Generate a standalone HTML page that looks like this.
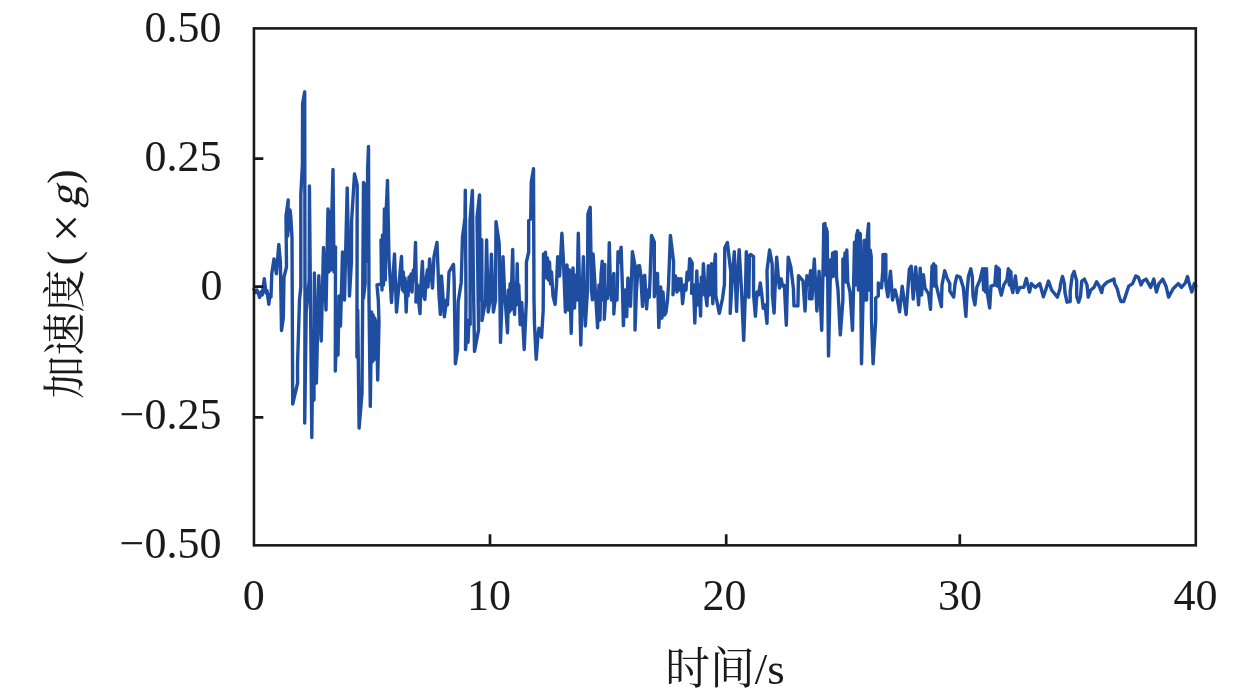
<!DOCTYPE html>
<html lang="zh">
<head>
<meta charset="utf-8">
<title>加速度时程曲线</title>
<style>
html,body{margin:0;padding:0;background:#fff;}
body{width:1259px;height:700px;overflow:hidden;position:relative;}
svg{position:absolute;left:0;top:0;display:block;}
text{font-family:"Liberation Serif","Noto Serif CJK SC",serif;font-size:44px;fill:#1a1a1a;}
.cjk{font-family:"Liberation Serif","Noto Serif CJK SC",serif;}
</style>
</head>
<body>
<svg width="1259" height="700" viewBox="0 0 1259 700">
<rect x="0" y="0" width="1259" height="700" fill="#ffffff"/>
<polyline fill="none" stroke="#1f4ea1" stroke-width="3.4" stroke-linejoin="round" stroke-linecap="round" points="254,289.5 255.5,292.5 257,290 259.6,297.5 261,292 262.2,295 264.3,278.6 266,293 267,290.5 268.8,304.2 270,294.5 271,297 271.8,273.4 274,259 276.4,273.8 278.8,244.5 280.4,262 281,300 281.5,330.5 283.3,318 284,277 286.5,267 286,216 288.2,200 287.6,236 290,210 290.8,216.8 292,237.6 292.7,404 297.6,383 297.5,365 299.5,300 300.8,287 300.8,195 302.4,165 302.6,103.5 304.7,91.8 305,300 304.7,423 306.2,311 309.2,280 309.4,186 310.3,280 311.8,437.6 313,330 314,400 314.4,273 316.4,383 318.8,275.8 321.2,341 323.5,247.5 326,310 328,209 328.8,272 329.8,212 330.8,270 331.8,214 333,169.5 334,272 335.5,247 335.3,371 336.5,335 338,355 339,296 340.5,326 342.5,252 344.5,300 347.2,188 349.5,296 351.4,262 351.6,221 354.5,174 357.2,185 356.9,357 357.7,310 359.1,428 362,393 363.5,182.5 363.5,298 365.2,283 364.8,186 365.6,262 366.4,184 367.2,255 367.6,170 368.5,146.5 369,300 370.3,406.4 371.6,312 372.2,362 373.2,315 373.8,360 374.8,318 375.3,345 376.5,321 377.7,380 379,322 378.3,300 377,285 381.5,284 381,240 382,290 382.5,235 383.5,285 384.4,209 385.3,280 386,215 387.5,180.5 389,260 391.5,302.5 394.5,254 396.5,312 401.5,256.5 402.5,290 403.3,272 404,292 405,278 406.2,312 407.3,282 408,296 409,277 410,290 411,274 412,292 413.3,270 414.2,280 415.5,242.5 416.3,285 415.9,302 417.5,285 418.5,300 420,313.6 421,285 422.4,261.5 423.5,295 424.9,299.5 426,280 427.4,270 428,287 429.6,259 432.5,288 434,256.5 437,242.5 439,295 440.4,314.4 441.5,276 444.4,316.8 446.5,300 447.5,305 449,272 453.5,264.4 454.1,278.6 455.4,363.7 457.5,350 458.2,301.7 461.2,282.4 462.5,237 465,218 465.3,190.2 466,300 465.5,349.5 467,335 468,342.4 469,320 470.2,324.4 470,221 472.4,190.5 473.4,280 474.5,351.4 478.6,329.6 477,218 479.5,195 480.3,300 481.8,239.7 482,320.6 485.5,300 486.6,240 488.2,312 490,300 491.4,254.1 493.4,312 495.5,300 496,221.7 499.2,243.6 500.5,342.4 502,300 503,256.7 504.5,290 507.5,332.8 508.5,290 509.3,312 510.1,283.7 510.8,310 511.6,285 512.7,249.5 513.5,300 514.6,314.4 515.5,283 516.3,305 517.2,263.8 518,300 518.8,285 520.2,324.6 521.7,302.4 524.2,349.5 526.4,300 526.4,262 528.7,252 528.7,220.5 530.7,219 531.3,182 533.5,168.7 534,300 534.5,324.4 536.2,359.2 538,335 539,328.3 541.6,337.3 543.2,310 543.5,254 544.3,275 545.5,252.2 546.5,278 547.5,258 548.5,280 549.5,262 550.5,284 551.5,272 553,296 555.1,304.4 556.5,285 557.7,256.7 559.6,276 561.9,233.3 563.5,262 565.4,312 567,265 568.5,310 569.5,270 571.2,333.4 573,268 574.5,308 576,275 577,300 578.3,233.3 580.8,345 582,300 583.4,256.7 585.3,326 587.5,290 587.9,214 590.2,207.3 591.5,290 592.4,299.8 593.1,254 595,285 597.6,327.7 599,285 600,320 601,275 602.2,261.2 603,300 604.8,264.5 604.3,319.2 606,290 607.4,298.6 608.5,280 609.3,242.6 610.5,290 611.5,300 612.5,285 613.8,273.5 613.8,314 615.5,290 617,300 618,251.6 619.5,262 621.1,247.1 622.5,290 623.4,325.6 625,290 626.7,316.6 627.9,278 629,300 630.5,306.3 632.4,251.6 635,265.7 635,330.1 636.5,290 638.2,266 639.5,265.7 640.8,275.4 642.5,306.3 644,276 644.7,275.4 646.6,308.9 648,290 649.2,297.3 650,280 651.5,235.5 654.3,242 654.3,296.7 655.5,285 656.2,273.5 657.5,273.5 658.8,327.5 660.7,287 662,318 663,292 664.5,315 665.9,312.7 667.5,300 668.5,285 670.4,235.5 673.6,261.9 673,294.7 674.9,276 675.5,276 677,292 678.7,278.6 680,290 681,278.6 682.6,303.7 684.5,285 686,290 687.1,272.2 688.5,280 689.7,258.7 692.2,263.2 691.6,293.4 693.5,285 694.8,323 696.8,270.9 698,305 699,285 700.6,316 701.3,277.3 702.3,295 703.4,263.8 705,290 707,305.7 708.3,265.7 709.5,295 711.5,263.8 712.8,303.7 714,270 715.4,254.2 715.8,296 719.3,313.4 722.5,298.6 724.4,284.4 724.8,247.7 727.4,242.6 730.8,272.2 730.2,313.4 732.5,275 734.3,251.6 736.6,311.4 738,270 739.2,249.7 741.5,290 743.7,340.4 745.5,290 746.3,251.6 748.8,297.3 749.5,255.5 750.9,254.5 753.5,256.5 753.6,295 755.4,316.2 757,292 758.5,295 760.3,283 761.5,292 763.2,308.4 765,305 767,323.2 767.6,300 767,270.6 769.6,250 772.2,264.2 772.4,295 774.1,313 775,290 776.7,257.1 778.6,280.9 779.5,288 781.2,278.8 782.5,286 784.4,285.4 786.3,325.2 787.5,280 788.2,257.1 790.8,266.7 793.4,288.6 794,305.9 797.9,305.9 798.5,275.7 803,280.9 805,311 806.9,275.7 808.5,285 810.7,270.6 809.5,298.8 812,298.8 814.3,259 816.9,311 819.1,271.2 821.7,330.3 823.2,262 823.8,224 825,223.6 825.4,275 826.1,228 827.2,232 828.5,356 830,290 830.7,259.7 831.8,277 832.6,253 833.6,276 834.6,252 835.6,276 836.2,252 836.5,277 838,290 840.3,334.8 842.9,300 842.9,259 844,282 845,253 846,282 846.8,250 847.8,282 850,292 852.5,330.3 853.5,290 854.5,242.3 855.5,285 856.5,236 857.7,230.7 858.4,290 859.3,233 860.3,234 861.5,363.7 863,300 864.1,240.4 865,300 865.8,240 866.6,300 867.4,236 868.6,223.6 869.3,290 870.2,250 871.2,256.4 871.5,320 873.1,363.7 875.7,320 875.7,298 878.3,296 878.3,283 881.5,287.9 882.8,270 883,254.5 884,280 884.8,254.5 885.8,254.5 886,285 887.9,296.9 889.5,280 890.5,271.2 892.5,300 895.1,290 897,297.7 899.6,311.9 902.2,286.2 906.1,314.5 909.3,269.4 911.2,266.2 913.2,299 915.7,266.9 917,285 918.6,304.8 920.2,268.2 921.5,295 923.4,274.6 925,288 928.6,294 930.5,309.3 932,266 932.8,286 933.7,263.6 934.6,286 935.7,266 936,284 938.9,296.4 941.4,306.7 942,285 944.7,270.7 947.2,278.4 949.8,283.6 949.8,291 953.7,297 955,284 956.9,275.9 960.1,277 963.3,287.4 965.9,316.4 967.2,290 968.5,275.9 970.8,268.8 972.3,277 973,296 974.9,304.8 976.8,287.4 980,279.7 982.6,268.8 983.6,290 984.6,268.8 985.6,292 986.5,268.8 987.2,290 987.8,296 989.7,308 991,286.2 994.8,284.9 996.1,266.2 997,286 998,268 999.3,269.4 999.3,287.4 1001.3,295.2 1003.8,284.9 1007,279.7 1008.3,268.8 1009.3,285 1010.2,271 1010.9,272 1011.5,287.4 1012.8,292.6 1015.4,275.9 1017.3,292.6 1020,287.4 1023.8,287.4 1026.3,278.4 1029.5,292 1031.5,283.6 1035.3,287.4 1039.8,283.6 1043.4,296.8 1046,289 1048.5,281 1051.6,290 1057.4,297.1 1060,288.7 1060.6,283.6 1062.5,276.5 1064.4,283.6 1065,292.6 1067,302.2 1070.2,301.6 1070.2,291.3 1072.2,275.9 1074.1,271.4 1076.7,281 1076.7,296.4 1078.6,302.2 1080.5,296.4 1081.8,281 1084.4,279.1 1087,284.9 1088.2,297.1 1090.8,290 1094,287.4 1096.6,281.7 1099.2,286.2 1101.7,292.6 1103,286.2 1106.9,282.3 1114,279.1 1114.6,283.6 1117.2,288.7 1119.1,296.4 1121,301.6 1123.6,301.6 1126.2,293.9 1128.7,286.2 1132.6,283.6 1135.8,275.9 1138.4,277.2 1141,284.9 1142.9,281 1146.1,279.1 1150.6,287.4 1153.8,279.1 1156.4,292 1159,283.6 1162.8,279.1 1166,286.2 1168.6,297.1 1173.1,288.7 1178.3,283.6 1181.5,287.4 1185.3,283 1187.5,276.5 1189.2,283.6 1191.8,292 1194.3,283.6 1195.8,286"/>
<rect x="253.95" y="28.4" width="941.85" height="516.95" fill="none" stroke="#1a1a1a" stroke-width="2.6"/>
<path d="M253.95 158.6H263.35M253.95 286.7H263.35M253.95 417.3H263.35M490 545.35V534.15M726.2 545.35V534.15M959.8 545.35V534.15" fill="none" stroke="#1a1a1a" stroke-width="2.7"/>
<g><text x="221.4" y="42.2" text-anchor="end">0.50</text><text x="221.4" y="171.05" text-anchor="end">0.25</text><text x="222.6" y="300" text-anchor="end">0</text><text x="221.4" y="428.85" text-anchor="end">−0.25</text><text x="221.4" y="557.8" text-anchor="end">−0.50</text></g>
<g><text x="253.7" y="609.7" text-anchor="middle">0</text><text x="489.1" y="609.7" text-anchor="middle">10</text><text x="724.55" y="609.7" text-anchor="middle">20</text><text x="960" y="609.7" text-anchor="middle">30</text><text x="1195.4" y="609.7" text-anchor="middle">40</text></g>
<text class="cjk" x="725" y="683.5" text-anchor="middle" style="font-size:44.8px">时间/s</text>
<g transform="translate(79 400) rotate(-90)">
<text class="cjk" x="1.2" y="0.5" style="font-size:43.2px">加速度</text>
<text x="134.6" y="-1">(</text>
<text x="158" y="3.6" style="font-size:50px">×</text>
<text x="192" y="0" transform="translate(192 0) skewX(-14) translate(-192 0)">g</text>
<text x="216" y="-1">)</text>
</g>
</svg>
</body>
</html>
